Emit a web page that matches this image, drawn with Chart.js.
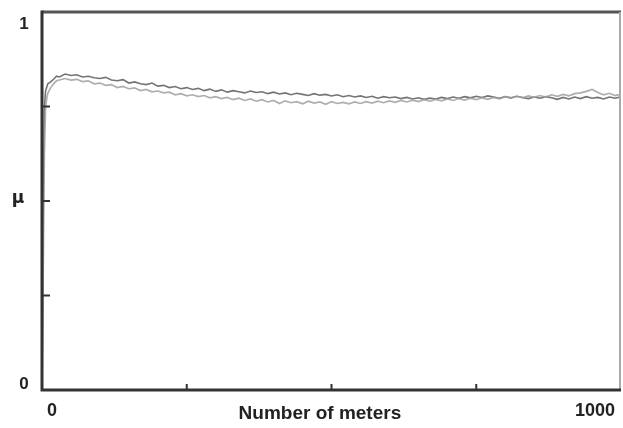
<!DOCTYPE html>
<html>
<head>
<meta charset="utf-8">
<script src="https://cdn.jsdelivr.net/npm/chart.js@4/dist/chart.umd.min.js"></script>
<style>
html,body{margin:0;padding:0;background:#fff;}
#wrap{width:623px;height:428px;position:relative;}
</style>
</head>
<body>
<div id="wrap"><canvas id="c"></canvas></div>
<script>
// Distance (meters) sample positions
const meters = [0,2,4,6,8,10,15,20,25,30,
  40,50,60,70,80,90,100,110,120,130,
  140,150,160,170,180,190,200,210,220,230,
  240,250,260,270,280,290,300,310,320,330,
  340,350,360,370,380,390,400,410,420,430,
  440,450,460,470,480,490,500,510,520,530,
  540,550,560,570,580,590,600,610,620,630,
  640,650,660,670,680,690,700,710,720,730,
  740,750,760,770,780,790,800,810,820,830,
  840,850,860,870,880,890,900,910,920,930,
  940,950,960,970,980,990,1000];

// Darker trace
const muDark = [0,0.45,0.74,0.79,0.80,0.81,0.815,0.822,0.83,0.828,
  0.836,0.832,0.834,0.828,0.83,0.826,0.824,0.827,0.82,0.818,
  0.821,0.812,0.815,0.81,0.808,0.812,0.804,0.806,0.80,0.803,
  0.797,0.80,0.795,0.798,0.792,0.796,0.79,0.794,0.788,0.792,
  0.789,0.786,0.791,0.787,0.789,0.784,0.788,0.783,0.786,0.781,
  0.785,0.782,0.779,0.784,0.78,0.782,0.778,0.781,0.776,0.779,
  0.775,0.778,0.774,0.777,0.772,0.776,0.773,0.775,0.771,0.774,
  0.77,0.773,0.769,0.772,0.77,0.774,0.771,0.775,0.772,0.776,
  0.773,0.777,0.774,0.778,0.775,0.772,0.776,0.773,0.777,0.774,
  0.771,0.775,0.772,0.776,0.773,0.769,0.774,0.77,0.775,0.771,
  0.776,0.772,0.774,0.77,0.775,0.772,0.776];

// Lighter trace
const muLight = [0,0.30,0.62,0.74,0.77,0.785,0.80,0.81,0.818,0.82,
  0.824,0.82,0.822,0.816,0.818,0.81,0.812,0.806,0.808,0.80,
  0.803,0.797,0.799,0.792,0.795,0.789,0.791,0.786,0.788,0.781,
  0.784,0.778,0.781,0.776,0.779,0.773,0.776,0.771,0.774,0.768,
  0.772,0.766,0.77,0.764,0.768,0.762,0.766,0.758,0.765,0.76,
  0.763,0.757,0.764,0.759,0.762,0.756,0.763,0.758,0.761,0.757,
  0.762,0.758,0.763,0.759,0.764,0.76,0.765,0.761,0.766,0.762,
  0.767,0.763,0.768,0.764,0.769,0.765,0.77,0.766,0.771,0.767,
  0.772,0.768,0.773,0.769,0.774,0.77,0.776,0.772,0.777,0.773,
  0.778,0.774,0.779,0.775,0.781,0.777,0.782,0.778,0.784,0.786,
  0.79,0.795,0.787,0.781,0.785,0.779,0.783];

// Axis ticks and labels
const xTicks = [0,250,500,750,1000];
const yTicks = [0,0.25,0.5,0.75,1];
const xTickLabels = [{v:0,t:'0'},{v:1000,t:'1000'}];
const yTickLabels = [{v:0,t:'0'},{v:1,t:'1'}];
const xTitle = 'Number of meters';
const yTitle = 'μ';

function pts(xs, ys){ return xs.map((x,i)=>({x:x,y:ys[i]})); }

const frame = {
  id:'frame',
  afterDatasetsDraw(chart){
    const ctx = chart.ctx, xs = chart.scales.x, ys = chart.scales.y;
    const L = xs.getPixelForValue(0), R = xs.getPixelForValue(1000);
    const B = ys.getPixelForValue(0), T = ys.getPixelForValue(1);
    ctx.save();
    ctx.strokeStyle = '#555'; ctx.lineWidth = 3;
    ctx.beginPath(); ctx.moveTo(L, T); ctx.lineTo(R, T); ctx.stroke();
    ctx.strokeStyle = '#aaa'; ctx.lineWidth = 2;
    ctx.beginPath(); ctx.moveTo(R-1, T); ctx.lineTo(R-1, B); ctx.stroke();
    ctx.strokeStyle = '#333'; ctx.lineWidth = 3;
    ctx.beginPath(); ctx.moveTo(L, T-1.5); ctx.lineTo(L, B); ctx.lineTo(R, B); ctx.stroke();
    ctx.lineWidth = 2; ctx.strokeStyle = '#333';
    yTicks.forEach(v=>{ if(v===0||v===1) return; const y = ys.getPixelForValue(v);
      ctx.beginPath(); ctx.moveTo(L, y); ctx.lineTo(L+8, y); ctx.stroke(); });
    xTicks.forEach(v=>{ if(v===0||v===1000) return; const x = xs.getPixelForValue(v);
      ctx.beginPath(); ctx.moveTo(x, B); ctx.lineTo(x, B-6); ctx.stroke(); });
    ctx.fillStyle = '#222';
    ctx.font = 'bold 18px "Liberation Sans", Arial, sans-serif';
    ctx.textBaseline = 'middle';
    xTickLabels.forEach(o=>{
      const x = xs.getPixelForValue(o.v);
      if (o.v === 0) { ctx.textAlign='left'; ctx.fillText(o.t, x+5, B+21); }
      else { ctx.textAlign='right'; ctx.fillText(o.t, x-6, B+21); }
    });
    ctx.font = 'bold 17px "Liberation Sans", Arial, sans-serif';
    yTickLabels.forEach(o=>{
      const y = ys.getPixelForValue(o.v);
      ctx.textAlign='center';
      ctx.fillText(o.t, L-18, o.v===0 ? y-6 : y+12);
    });
    ctx.textAlign='center';
    ctx.font = 'bold 19px "Liberation Sans", Arial, sans-serif';
    ctx.fillText(xTitle, xs.getPixelForValue(480), B+24);
    ctx.font = 'bold 17px "DejaVu Sans", sans-serif';
    ctx.fillText(yTitle, L-24, ys.getPixelForValue(0.5)-2);
    ctx.restore();
  }
};

new Chart(document.getElementById('c'), {
  type:'line',
  data:{ datasets:[
    {data:pts(meters, muLight), borderColor:'rgba(160,160,160,0.85)', borderWidth:1.7, pointRadius:0, tension:0},
    {data:pts(meters, muDark), borderColor:'rgba(70,70,70,0.75)', borderWidth:1.6, pointRadius:0, tension:0}
  ]},
  options:{
    responsive:true, maintainAspectRatio:false, animation:false,
    layout:{padding:{left:42, right:2, top:12, bottom:38}},
    scales:{
      x:{type:'linear', min:0, max:1000, display:false},
      y:{min:0, max:1, display:false}
    },
    plugins:{legend:{display:false}, tooltip:{enabled:false}}
  },
  plugins:[frame]
});
</script>
</body>
</html>
